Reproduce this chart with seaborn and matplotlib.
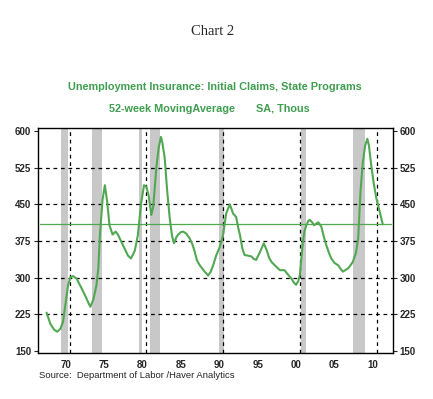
import matplotlib
matplotlib.use("Agg")
import matplotlib.pyplot as plt
import seaborn as sns
import pandas as pd
import numpy as np

sns.set_style("white")
plt.rcParams["font.family"] = ["Liberation Sans", "DejaVu Sans"]

# 52-week moving average of initial claims (thousands)
years = [1968.0, 1968.5, 1969.0, 1969.4, 1969.8, 1970.15, 1970.5, 1970.8, 1971.1, 1971.45,
         1971.9, 1972.4, 1973.0, 1973.4, 1973.7, 1974.1, 1974.5, 1974.75, 1974.95, 1975.3,
         1975.6, 1975.9, 1976.2, 1976.6, 1977.0, 1977.3, 1977.75, 1978.3, 1978.6, 1979.0,
         1979.5, 1979.9, 1980.3, 1980.7, 1981.0, 1981.3, 1981.65, 1981.9, 1982.3, 1982.6,
         1982.9, 1983.1, 1983.4, 1983.7, 1984.05, 1984.35, 1984.6, 1984.9, 1985.1, 1985.5,
         1985.8, 1986.2, 1986.65, 1987.0, 1987.3, 1987.6, 1987.96, 1988.3, 1988.6, 1989.05,
         1989.4, 1989.7, 1990.1, 1990.5, 1990.8, 1991.0, 1991.4, 1991.87, 1992.3, 1992.7,
         1993.0, 1993.2, 1993.5, 1993.8, 1994.2, 1994.7, 1995.0, 1995.3, 1995.8, 1996.3,
         1996.7, 1997.0, 1997.3, 1997.8, 1998.4, 1999.0, 1999.5, 1999.9, 2000.2, 2000.5,
         2000.8, 2001.0, 2001.2, 2001.4, 2001.6, 2001.85, 2002.1, 2002.3, 2002.6, 2002.85,
         2003.1, 2003.4, 2003.8, 2004.1, 2004.45, 2004.8, 2005.1, 2005.5, 2006.0, 2006.3,
         2006.6, 2007.0, 2007.3, 2007.6, 2007.9, 2008.3, 2008.6, 2008.9, 2009.2, 2009.5,
         2009.8, 2010.0, 2010.3, 2010.6, 2010.97, 2011.4, 2011.8]
claims = [228, 205, 193, 189, 195, 209, 250, 284, 300, 303,
          298, 283, 264, 250, 240, 255, 284, 320, 387, 460,
          489, 455, 407, 388, 394, 388, 373, 355, 345, 339,
          355, 387, 450, 489, 486, 468, 428, 445, 524, 565,
          588, 575, 544, 480, 421, 385, 370, 382, 387, 393,
          394, 390, 380, 368, 353, 335, 325, 318, 312, 304,
          312, 325, 345, 360, 375, 387, 431, 450, 431, 424,
          400, 387, 360, 346, 345, 343, 338, 336, 352, 370,
          355, 340, 332, 324, 315, 315, 305, 298, 290, 285,
          293, 305, 340, 373, 395, 407, 416, 418, 413, 407,
          410, 413, 404, 385, 366, 350, 339, 330, 325, 318,
          312, 316, 319, 325, 332, 350, 380, 476, 535, 570,
          584, 570, 530, 495, 462, 435, 409]

# NBER recessions (start, end)
rec_start = [1969.92, 1973.88, 1980.0, 1981.5, 1990.5, 2001.17, 2007.92]
rec_end = [1970.83, 1975.17, 1980.5, 1982.83, 1991.17, 2001.83, 2009.5]

latest = 409
y_ticks = [150, 225, 300, 375, 450, 525, 600]
x_labels = ["70", "75", "80", "85", "90", "95", "00", "05", "10"]
x_label_pos = [1970.5, 1975.5, 1980.5, 1985.5, 1990.5, 1995.5, 2000.5, 2005.5, 2010.5]
decade_lines = [1971.0, 1981.0, 1991.0, 2001.0, 2011.0]

df = pd.DataFrame({"year": years, "claims": claims})
line_green = "#52a852"
text_green = "#3f9e4f"

fig = plt.figure(figsize=(4.33, 3.99), dpi=100)
ax = fig.add_axes([0.088, 0.116, 0.819, 0.563])

for s, e in zip(rec_start, rec_end):
    ax.axvspan(s, e, color="#c8c8c8", lw=0, zorder=0)
for v in y_ticks[1:-1]:
    ax.axhline(v, color="black", lw=0.9, ls=(0, (3, 3)), zorder=1)
for d in decade_lines:
    ax.axvline(d, color="black", lw=0.9, ls=(0, (3, 3)), zorder=1)

ax.axhline(latest, xmin=0.005, xmax=0.995, color=line_green, lw=0.9, zorder=2)
sns.lineplot(data=df, x="year", y="claims", ax=ax, color=line_green, lw=1.5, zorder=3)

ax.set_xlim(1966.9, 2013.1)
ax.set_ylim(146, 606)
ax.set_xlabel("")
ax.set_ylabel("")
ax.set_yticks(y_ticks)
ax.set_yticklabels([str(t) for t in y_ticks], fontsize=7, fontweight="bold")
ax.set_xticks(x_label_pos)
ax.set_xticklabels(x_labels, fontsize=7, fontweight="bold")
ax.set_xticks(np.arange(1967.5, 2013, 1.0), minor=True)
ax.tick_params(axis="x", which="major", length=0, pad=5)
ax.tick_params(axis="x", which="minor", length=2, width=0.8, direction="out")
ax.tick_params(axis="y", length=3, width=0.8, direction="out", pad=2,
               left=True, right=True, labelleft=True, labelright=True)
for side in ax.spines.values():
    side.set_linewidth(1.0)
    side.set_color("black")

fig.text(0.492, 0.922, "Chart 2", ha="center", va="center", fontsize=10.5,
         family=["Liberation Serif", "DejaVu Serif"])
fig.text(0.497, 0.782, "Unemployment Insurance: Initial Claims, State Programs",
         ha="center", va="center", fontsize=7.8, fontweight="bold", color=text_green)
fig.text(0.483, 0.727, "52-week MovingAverage       SA, Thous",
         ha="center", va="center", fontsize=7.8, fontweight="bold", color=text_green)
fig.text(0.09, 0.058, "Source:  Department of Labor /Haver Analytics",
         ha="left", va="center", fontsize=6.8)

fig.savefig("out.png", dpi=100)
